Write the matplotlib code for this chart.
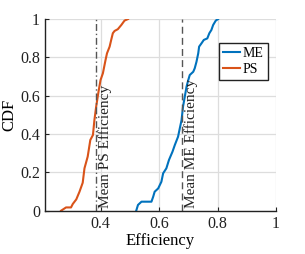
import matplotlib
matplotlib.use("Agg")
import matplotlib.pyplot as plt

plt.rcParams['font.family'] = ['Liberation Serif', 'DejaVu Serif']
plt.rcParams['mathtext.fontset'] = 'stix'

ps_x = [0.265, 0.277, 0.282, 0.299, 0.305, 0.317, 0.328, 0.339, 0.345, 0.356, 0.365, 0.374,
        0.379, 0.385, 0.394, 0.400, 0.408, 0.417, 0.422, 0.431, 0.437, 0.442, 0.448, 0.459,
        0.471, 0.482, 0.494]
ps_y = [0.0, 0.012, 0.017, 0.017, 0.035, 0.059, 0.099, 0.146, 0.221, 0.282, 0.369, 0.395,
        0.473, 0.543, 0.630, 0.682, 0.717, 0.786, 0.821, 0.856, 0.895, 0.926, 0.938, 0.947,
        0.969, 0.992, 1.0]

me_x = [0.522, 0.528, 0.540, 0.574, 0.580, 0.585, 0.597, 0.608, 0.614, 0.625, 0.634, 0.646,
        0.654, 0.665, 0.671, 0.677, 0.682, 0.688, 0.694, 0.700, 0.705, 0.717, 0.722, 0.728,
        0.734, 0.737, 0.745, 0.753, 0.765, 0.772, 0.779, 0.785, 0.794, 0.802]
me_y = [0.0, 0.030, 0.047, 0.047, 0.073, 0.099, 0.116, 0.151, 0.195, 0.221, 0.265, 0.308,
        0.343, 0.386, 0.430, 0.473, 0.543, 0.595, 0.647, 0.682, 0.708, 0.725, 0.743, 0.777,
        0.821, 0.856, 0.873, 0.891, 0.899, 0.926, 0.943, 0.969, 0.992, 1.0]

mean_ps = 0.383
mean_me = 0.677

xticks = [0.4, 0.6, 0.8, 1.0]
xticklabels = ['0.4', '0.6', '0.8', '1']
yticks = [0, 0.2, 0.4, 0.6, 0.8, 1.0]
yticklabels = ['0', '0.2', '0.4', '0.6', '0.8', '1']

fig = plt.figure(figsize=(3.05, 2.54), dpi=100)
ax = fig.add_axes([0.1475, 0.1705, 0.905 - 0.1475, 0.925 - 0.1705])

ax.plot(me_x, me_y, color='#0072BD', lw=1.5, label='ME')
ax.plot(ps_x, ps_y, color='#D95319', lw=1.5, label='PS')
ax.axvline(mean_ps, color='#555555', lw=1.0, linestyle='-.', dashes=(5, 2, 1, 2))
ax.axvline(mean_me, color='#555555', lw=1.0, linestyle='--', dashes=(5, 3))
ax.text(mean_ps + 0.008, 0.015, 'Mean PS Efficiency', rotation=90, fontsize=11,
        va='bottom', ha='left', color='#222222')
ax.text(mean_me + 0.008, 0.015, 'Mean ME Efficiency', rotation=90, fontsize=11,
        va='bottom', ha='left', color='#222222')

ax.set_xlim(0.21, 1.0)
ax.set_ylim(0, 1)
ax.set_xticks(xticks)
ax.set_xticklabels(xticklabels)
ax.set_yticks(yticks)
ax.set_yticklabels(yticklabels)
ax.tick_params(direction='in', labelsize=11.5, length=3, width=0.8, colors='#222222')
ax.grid(True, color='#dddddd', lw=0.9)
ax.set_axisbelow(True)
for s in ['top', 'right']:
    ax.spines[s].set_visible(False)
for s in ['left', 'bottom']:
    ax.spines[s].set_linewidth(1.0)
    ax.spines[s].set_color('#222222')
ax.set_xlabel('Efficiency', fontsize=12, labelpad=1)
ax.set_ylabel('CDF', fontsize=12, labelpad=2)

leg = ax.legend(loc='upper right', bbox_to_anchor=(0.965, 0.875), fontsize=10,
                handlelength=1.2, handletextpad=0.2, borderpad=0.3, labelspacing=0.2,
                fancybox=False, framealpha=1, borderaxespad=0)
leg.get_frame().set_edgecolor('#222222')
leg.get_frame().set_linewidth(1.0)

fig.savefig('out.png', dpi=100)
